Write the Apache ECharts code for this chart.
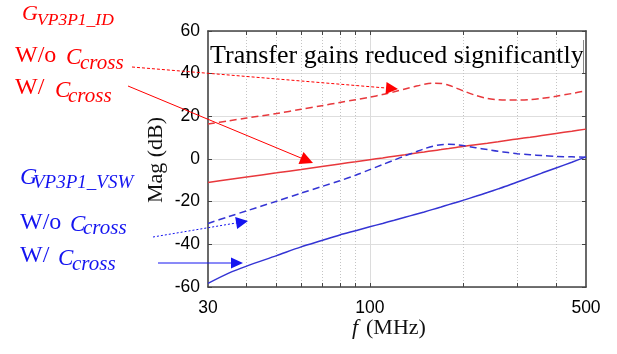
<!DOCTYPE html>
<html><head><meta charset="utf-8">
<script src="https://cdn.jsdelivr.net/npm/echarts@6/dist/echarts.min.js"></script>
<style>html,body{margin:0;padding:0;background:#fff}#c{width:617px;height:354px}</style>
</head><body><div id="c"></div>
<script>
// frequency points (MHz)
const freq = [30,35,40,50,60,70,80,90,100,110,120,130,140,150,160,170,180,190,200,220,240,260,280,300,330,360,400,450,500];
// G_VP3P1_ID with C_cross (solid red)
const idWith = [-11.0,-9.6,-8.4,-6.5,-4.9,-3.5,-2.3,-1.3,-0.3,0.5,1.3,2.0,2.7,3.3,3.9,4.4,4.9,5.4,5.9,6.7,7.4,8.1,8.8,9.4,10.2,11.0,12.0,13.0,14.0];
// G_VP3P1_ID without C_cross (dashed red)
const idWithout = [16.4,17.9,19.2,21.3,23.3,25.0,26.5,27.8,29.0,30.2,31.5,32.8,34.0,35.0,35.5,35.4,34.6,33.3,32.0,29.8,28.4,27.8,27.6,27.6,27.8,28.4,29.4,30.7,32.0];
// G_VP3P1_VSW with C_cross (solid blue)
const vswWith = [-58.3,-53.5,-50.2,-45.3,-41.2,-38.2,-35.6,-33.6,-31.8,-30.2,-28.7,-27.3,-26.0,-24.8,-23.6,-22.5,-21.4,-20.4,-19.4,-17.5,-15.7,-14.0,-12.4,-10.8,-8.6,-6.6,-4.2,-1.5,1.0];
// G_VP3P1_VSW without C_cross (dashed blue)
const vswWithout = [-30.2,-27.0,-24.3,-19.8,-16.0,-12.9,-10.2,-7.6,-5.0,-2.6,-0.5,1.5,3.2,4.8,6.0,6.7,6.9,6.7,6.3,5.3,4.4,3.6,3.0,2.5,2.0,1.6,1.2,1.0,0.8];

const xLabelValues = [30,100,500];
const xMinorTicks = [40,50,60,70,80,90,200,300,400];
const xMajorTicks = [100];
const xAllTicks = [40,50,60,70,80,90,100,200,300,400];
const yMin = -60, yMax = 60, yStep = 20;

const RED = '#ff0000', BLUE = '#1414f0';
const RED_LINE = '#e8383c', BLUE_LINE = '#3434d4';
const SERIF = '"Liberation Serif","Times New Roman",serif';
const SANS = '"Liberation Sans",Arial,Helvetica,sans-serif';

function pts(vals){ return freq.map((f,i)=>[f, vals[i]]); }

const G = {left:208, top:31, width:378, height:256};

function txt(text, x, base, size, color, italic, extra){
  return Object.assign({
    type:'text', z:100,
    style:{text:text, x:x, y:base - 0.32*size, fill:color,
      font:(italic?'italic ':'')+size+'px '+SERIF, align:'left', verticalAlign:'middle'}
  }, extra||{});
}
function arrow(x1,y1,x2,y2,color,dash,L,W){
  const dx=x2-x1, dy=y2-y1, d=Math.sqrt(dx*dx+dy*dy), ux=dx/d, uy=dy/d;
  const bx=x2-ux*L, by=y2-uy*L, nx=-uy, ny=ux;
  return [
    {type:'line', z:100, shape:{x1:x1,y1:y1,x2:bx+ux*2,y2:by+uy*2},
     style:{stroke:color, lineWidth:1, lineDash:dash}},
    {type:'polygon', z:101, shape:{points:[[x2,y2],[bx+nx*W,by+ny*W],[bx-nx*W,by-ny*W]]},
     style:{fill:color}}
  ];
}

const graphics = [
  // title text in the plot
  {type:'text', z:100, style:{text:'Transfer gains reduced significantly', x:210, y:64-8, fill:'#000',
    font:'26px '+SERIF, align:'left', verticalAlign:'middle', letterSpacing:0.3}},
  {type:'line', z:100, shape:{x1:583.5,y1:40,x2:583.5,y2:73}, style:{stroke:'#888', lineWidth:1}},
  // red labels
  txt('G', 22, 21, 22, RED, true),
  txt('VP3P1_ID', 37, 26.5, 17.5, RED, true),
  txt('W/o', 15, 63, 24, RED, false),
  txt('C', 66, 65, 23, RED, true),
  txt('cross', 80, 70, 21, RED, true),
  txt('W/', 15, 95, 24, RED, false),
  txt('C', 55, 98, 23, RED, true),
  txt('cross', 68, 103, 21, RED, true),
  // blue labels
  txt('G', 20, 185, 24, BLUE, true),
  txt('VP3P1_VSW', 33, 189.5, 19, BLUE, true),
  txt('W/o', 20, 230, 24, BLUE, false),
  txt('C', 70, 232, 23, BLUE, true),
  txt('cross', 83, 235, 21, BLUE, true),
  txt('W/', 20, 263, 24, BLUE, false),
  txt('C', 58, 266, 23, BLUE, true),
  txt('cross', 72, 271, 21, BLUE, true),
  // axis titles
  {type:'text', z:100, x:156, y:160, rotation:Math.PI/2,
   style:{text:'Mag (dB)', x:0, y:0, fill:'#111', font:'22px '+SERIF, align:'center', verticalAlign:'middle'}},
  {type:'text', z:100, style:{text:'f', x:352, y:328, fill:'#111', font:'italic 22px '+SERIF, align:'left', verticalAlign:'middle'}},
  {type:'text', z:100, style:{text:'(MHz)', x:366, y:328, fill:'#111', font:'22px '+SERIF, align:'left', verticalAlign:'middle'}}
]
.concat(arrow(132,67,398,89,RED,[3,2],12,6))
.concat(arrow(128,86,313,163,RED,null,13,6.5))
.concat(arrow(153,237,248,221,BLUE,[2,2],12,6))
.concat(arrow(158,263,243,263,BLUE,null,12,5.5));

const axisLineStyle = {color:'#444', width:1.6};
const option = {
  animation:false,
  backgroundColor:'#fff',
  grid:G,
  xAxis:[
    {type:'log', logBase:10, min:30, max:500, position:'bottom',
     axisLine:{show:true, onZero:false, lineStyle:axisLineStyle},
     axisTick:{show:true, inside:true, length:4, customValues:xAllTicks, lineStyle:{color:'#444'}},
     axisLabel:{show:true, customValues:xLabelValues, fontSize:17.5, color:'#000', fontFamily:SANS, margin:12},
     splitLine:{show:false}},
    {type:'log', logBase:10, min:30, max:500, position:'bottom',
     axisLine:{show:false, onZero:false}, axisLabel:{show:false},
     axisTick:{show:false, customValues:xMinorTicks},
     splitLine:{show:true, lineStyle:{color:'#c4c4c4', type:[1,2], width:1}}},
    {type:'log', logBase:10, min:30, max:500, position:'bottom',
     axisLine:{show:false, onZero:false}, axisLabel:{show:false},
     axisTick:{show:false, customValues:xMajorTicks},
     splitLine:{show:true, lineStyle:{color:'#dcdcdc', type:'solid', width:1}}},
    {type:'log', logBase:10, min:30, max:500, position:'top',
     axisLine:{show:true, onZero:false, lineStyle:axisLineStyle}, axisLabel:{show:false},
     axisTick:{show:true, inside:true, length:4, customValues:xAllTicks, lineStyle:{color:'#444'}},
     splitLine:{show:false}}
  ],
  yAxis:[
    {type:'value', min:yMin, max:yMax, interval:yStep, position:'left',
     axisLine:{show:true, onZero:false, lineStyle:axisLineStyle},
     axisTick:{show:true, inside:true, length:4, lineStyle:{color:'#444'}},
     axisLabel:{fontSize:17.5, color:'#000', fontFamily:SANS, margin:8},
     splitLine:{show:true, lineStyle:{color:'#dedede', width:1}}},
    {type:'value', min:yMin, max:yMax, interval:yStep, position:'right',
     axisLine:{show:true, onZero:false, lineStyle:axisLineStyle},
     axisTick:{show:true, inside:true, length:4, lineStyle:{color:'#444'}},
     axisLabel:{show:false}, splitLine:{show:false}}
  ],
  series:[
    {type:'line', name:'ID w/o', data:pts(idWithout), showSymbol:false, smooth:0.3, z:3,
     lineStyle:{color:RED_LINE, width:1.5, type:[7,4]}},
    {type:'line', name:'ID w/', data:pts(idWith), showSymbol:false, smooth:0.3, z:3,
     lineStyle:{color:RED_LINE, width:1.5}},
    {type:'line', name:'VSW w/o', data:pts(vswWithout), showSymbol:false, smooth:0.3, z:3,
     lineStyle:{color:BLUE_LINE, width:1.5, type:[7,4]}},
    {type:'line', name:'VSW w/', data:pts(vswWith), showSymbol:false, smooth:0.3, z:3,
     lineStyle:{color:BLUE_LINE, width:1.5}}
  ],
  graphic:graphics
};
const chart = echarts.init(document.getElementById('c'));
chart.setOption(option);
</script>
</body></html>
